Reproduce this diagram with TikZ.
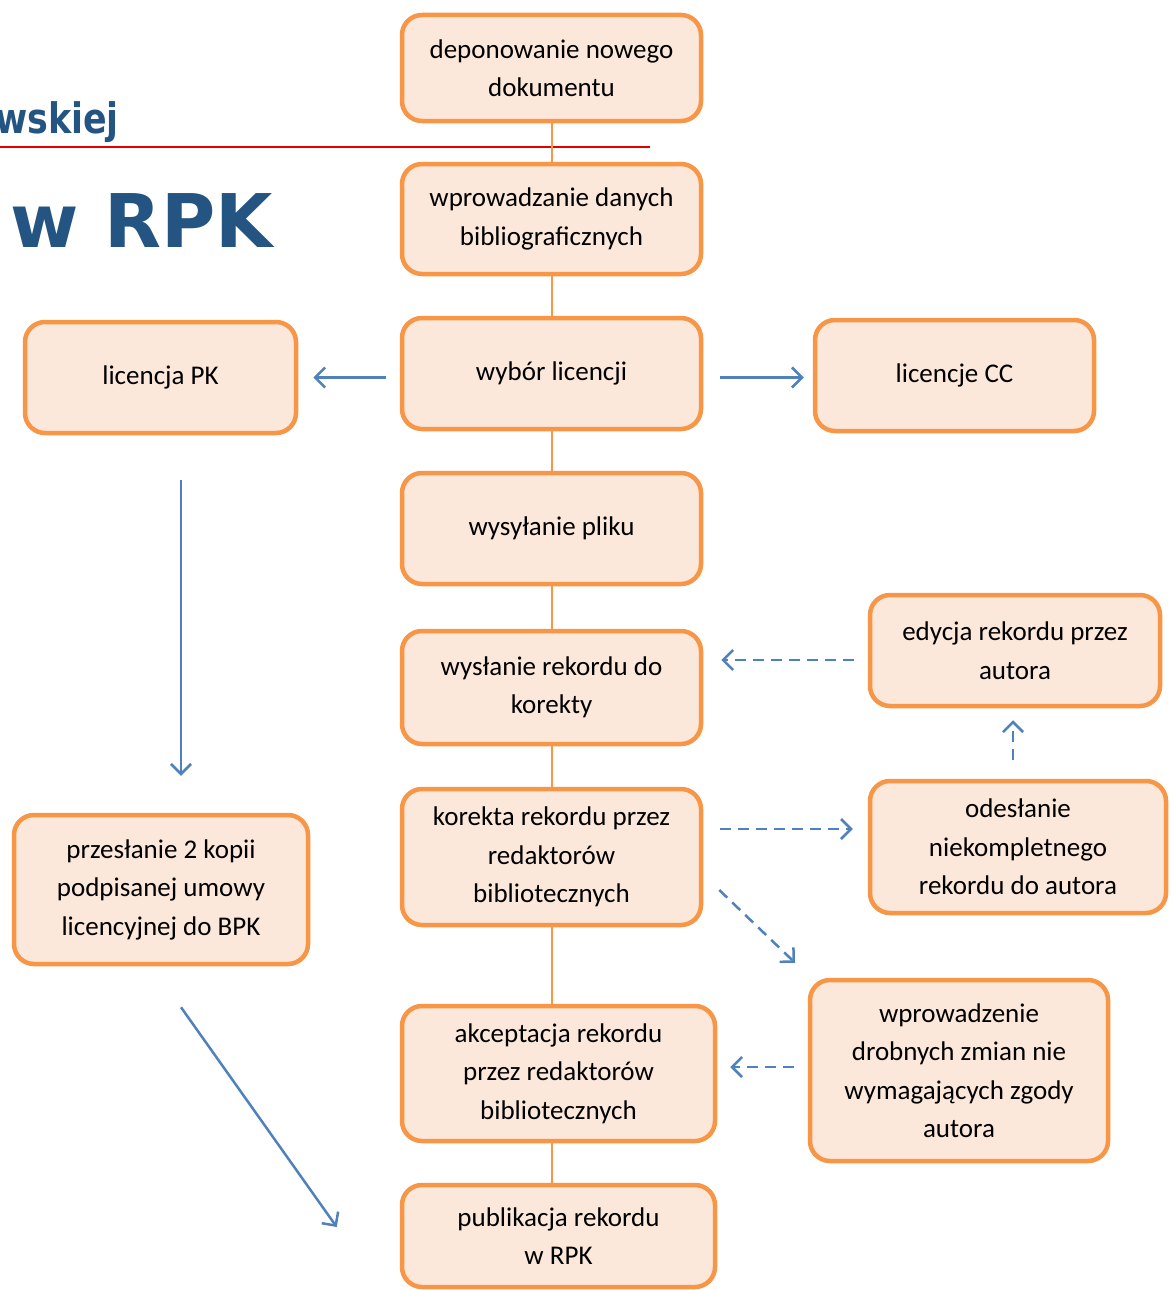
\documentclass[tikz,border=0pt]{standalone}
\usepackage{fontspec}
\setmainfont{Carlito}
\newfontfamily\titlefont{DejaVu Sans}
\usetikzlibrary{arrows.meta}
\definecolor{boxline}{RGB}{247,150,70}
\definecolor{boxfill}{RGB}{252,232,218}
\definecolor{arrblue}{RGB}{79,129,189}
\definecolor{titleblue}{RGB}{36,84,130}
\definecolor{rulered}{RGB}{228,0,0}
\tikzset{
  bx/.style={draw=boxline, fill=boxfill, line width=4.5pt, rounded corners=20pt,
    align=center, inner sep=0pt,
    font=\fontsize{27}{38.5}\selectfont},
  link/.style={draw=boxline, line width=2pt},
  arr/.style={draw=arrblue, line width=2.5pt,
    -{Straight Barb[length=10pt,width=20pt,line width=2.5pt]}},
  darr/.style={arr, dash pattern=on 11pt off 7pt},
}
\begin{document}
\begin{tikzpicture}[x=1pt,y=-1pt]
\useasboundingbox (0,0) rectangle (1170,1290);
% title fragments
\draw[rulered, line width=2pt] (0,147) -- (650,147);
\node[anchor=base east, inner sep=0pt, text=titleblue] (t1) at (119,133)
  {\scalebox{0.83}[1]{\titlefont\bfseries\fontsize{42}{50}\selectfont wskiej}};
\node[anchor=base west, inner sep=0pt, text=titleblue] (t2) at (10,247)
  {\titlefont\bfseries\fontsize{74}{80}\selectfont w RPK};
% boxes
\node[bx, minimum width=299pt, minimum height=106pt] (dep) at (551.5,68) {deponowanie nowego\\dokumentu};
\node[bx, minimum width=299pt, minimum height=110pt] (wpr) at (551.5,219) {wprowadzanie danych\\bibliograficznych};
\node[bx, minimum width=299pt, minimum height=111pt] (wyb) at (551.5,373.5) {wybór licencji};
\node[bx, minimum width=271pt, minimum height=111pt] (pk) at (160.5,377.5) {licencja PK};
\node[bx, minimum width=279pt, minimum height=111pt] (cc) at (954.5,375.5) {licencje CC};
\node[bx, minimum width=299pt, minimum height=111pt] (pli) at (551.5,528.5) {wysyłanie pliku};
\node[bx, minimum width=299pt, minimum height=113pt] (wys) at (551.5,687.5) {wysłanie rekordu do\\korekty};
\node[bx, minimum width=290pt, minimum height=111pt] (edy) at (1015,650.5) {edycja rekordu przez\\autora};
\node[bx, minimum width=299pt, minimum height=136pt] (kor) at (551.5,857) {korekta rekordu przez\\redaktorów\\bibliotecznych};
\node[bx, minimum width=296pt, minimum height=132pt] (ode) at (1018,847) {odesłanie\\niekompletnego\\rekordu do autora};
\node[bx, minimum width=294pt, minimum height=149pt] (prz) at (161,889.5) {przesłanie 2 kopii\\podpisanej umowy\\licencyjnej do BPK};
\node[bx, minimum width=298pt, minimum height=181pt] (drb) at (959,1070.5) {wprowadzenie\\drobnych zmian nie\\wymagających zgody\\autora};
\node[bx, minimum width=313pt, minimum height=135pt] (akc) at (558.5,1073.5) {akceptacja rekordu\\przez redaktorów\\bibliotecznych};
\node[bx, minimum width=313pt, minimum height=102pt] (pub) at (558.5,1236) {publikacja rekordu\\w RPK};
% orange spine
\draw[link] (dep.south) -- (wpr.north);
\draw[link] (wpr.south) -- (wyb.north);
\draw[link] (wyb.south) -- (pli.north);
\draw[link] (pli.south) -- (wys.north);
\draw[link] (wys.south) -- (kor.north);
\draw[link] (kor.south) -- (kor.south |- akc.north);
\draw[link] (akc.south -| kor.south) -- (pub.north -| kor.south);
% blue arrows
\draw[arr] ([xshift=-14pt]wyb.west |- pk.east) -- ([xshift=15pt]pk.east);
\draw[arr] ([xshift=17pt]wyb.east |- pk.east) -- ([xshift=-9pt]cc.west |- pk.east);
\draw[arr] ([xshift=20.5pt,yshift=-45pt]pk.south) -- ([xshift=20pt,yshift=37pt]prz.north);
\draw[arr] ([xshift=20pt,yshift=-41pt]prz.south) -- ([xshift=-63pt,yshift=9pt]pub.west);
\draw[darr] ([xshift=-14pt,yshift=-9.5pt]edy.west) -- ([xshift=18pt,yshift=-9.5pt]edy.west -| wys.east);
\draw[darr] ([xshift=-5pt,yshift=19pt]ode.north) -- ([xshift=-2pt,yshift=-12pt]edy.south);
\draw[darr] ([xshift=17pt,yshift=28pt]kor.east) -- ([xshift=-15pt,yshift=28pt]kor.east -| ode.west);
\draw[darr] ([xshift=16pt,yshift=-33pt]kor.east) -- ([xshift=-164pt,yshift=15pt]drb.north);
\draw[darr] ([xshift=-14pt,yshift=3.5pt]drb.west) -- ([xshift=13pt,yshift=3.5pt]drb.west -| akc.east);
\end{tikzpicture}
\end{document}
